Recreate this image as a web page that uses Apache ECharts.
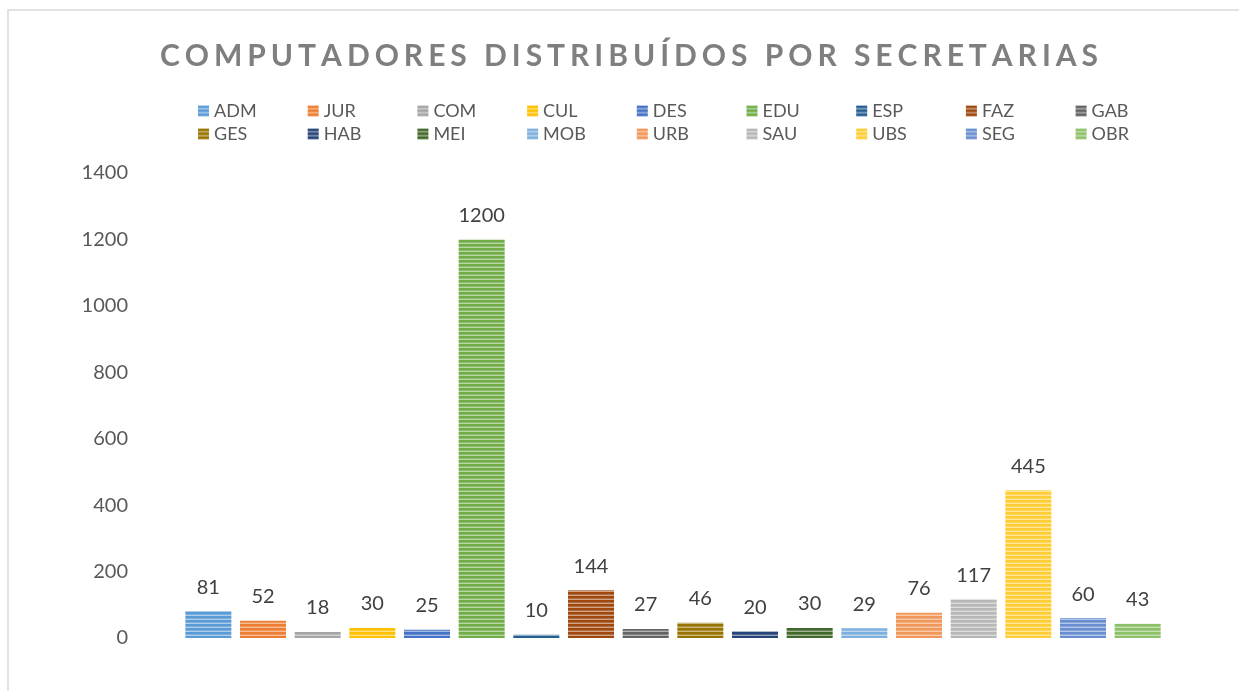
<!DOCTYPE html>
<html><head><meta charset="utf-8">
<script src="https://cdn.jsdelivr.net/npm/echarts@6/dist/echarts.min.js"></script>
<style>html,body{margin:0;padding:0;background:#fff}#c{width:1239px;height:691px}</style>
</head><body><div id="c"></div>
<script>
const categories = ['ADM','JUR','COM','CUL','DES','EDU','ESP','FAZ','GAB','GES','HAB','MEI','MOB','URB','SAU','UBS','SEG','OBR'];
const values = [81,52,18,30,25,1200,10,144,27,46,20,30,29,76,117,445,60,43];
const colors = ['#5B9BD5','#ED7D31','#A5A5A5','#FFC000','#4472C4','#70AD47','#255E91','#9E480E','#636363','#997300','#264478','#43682B','#7CAFDD','#F1975A','#B7B7B7','#FFCD33','#698ED0','#8CC168'];
const yMin = 0, yMax = 1400, yInterval = 200;
const titleText = 'COMPUTADORES DISTRIBUÍDOS POR SECRETARIAS';

function mix(hex, t) {
  const n = parseInt(hex.slice(1), 16);
  const r = (n >> 16) & 255, g = (n >> 8) & 255, b = n & 255;
  const f = v => Math.round(v + (255 - v) * t);
  return 'rgb(' + f(r) + ',' + f(g) + ',' + f(b) + ')';
}
function stripe(color) {
  const c = document.createElement('canvas'); c.width = 4; c.height = 4;
  const g = c.getContext('2d');
  g.fillStyle = mix(color, 0.5); g.fillRect(0, 0, 4, 4);
  g.fillStyle = color; g.fillRect(0, 0, 4, 2);
  g.fillStyle = mix(color, 0.2); g.fillRect(0, 2, 4, 1);
  return { image: c, repeat: 'repeat' };
}

// title with letter spacing
const titleFont = 'bold 30px Lato';
const tLeft = 160, tRight = 1098, tY = 56;
const mctx = document.createElement('canvas').getContext('2d');
mctx.font = titleFont;
const chars = Array.from(titleText);
const widths = chars.map(ch => mctx.measureText(ch).width);
const natural = widths.reduce((a, b) => a + b, 0);
const spacing = (tRight - tLeft - natural) / (chars.length - 1);
const titleChildren = [];
let cx = tLeft;
chars.forEach((ch, i) => {
  titleChildren.push({ type: 'text', x: cx, y: tY, style: { text: ch, font: titleFont, fill: '#7f7f7f', verticalAlign: 'middle', align: 'left' } });
  cx += widths[i] + spacing;
});

const series = categories.map((name, i) => ({
  name: name,
  type: 'bar',
  stack: 'all',
  barWidth: 46,
  data: categories.map((_, j) => j === i ? values[i] : '-'),
  itemStyle: { color: stripe(colors[i]) },
  label: { show: true, position: 'top', distance: 14, color: '#404040', fontSize: 20, fontFamily: 'Lato' }
}));

// one legend component per item, in a 9-column grid
const legends = categories.map((name, i) => ({
  left: 198 + (i % 9) * 109.7,
  top: 102 + Math.floor(i / 9) * 23,
  padding: 0, icon: 'rect', itemWidth: 11, itemHeight: 11,
  data: [name],
  textStyle: { fontSize: 18, color: '#595959', fontFamily: 'Lato', padding: [0, 0, 0, 0] }
}));

const chart = echarts.init(document.getElementById('c'));
chart.setOption({
  animation: false,
  backgroundColor: '#fff',
  graphic: [
    { type: 'rect', z: -10, shape: { x: 8, y: 10, width: 1300, height: 800 }, style: { fill: 'none', stroke: '#d9d9d9', lineWidth: 1.5 } },
    { type: 'group', children: titleChildren }
  ],
  legend: legends,
  grid: { left: 181, right: 74, top: 173, bottom: 53, containLabel: false },
  xAxis: { type: 'category', data: categories, axisLabel: { show: false }, axisTick: { show: false }, axisLine: { show: false } },
  yAxis: {
    type: 'value', min: yMin, max: yMax, interval: yInterval,
    axisLabel: { fontSize: 20, color: '#595959', fontFamily: 'Lato', margin: 53, formatter: v => String(v) },
    axisLine: { show: false }, axisTick: { show: false }, splitLine: { show: false }
  },
  series: series
});
</script></body></html>
